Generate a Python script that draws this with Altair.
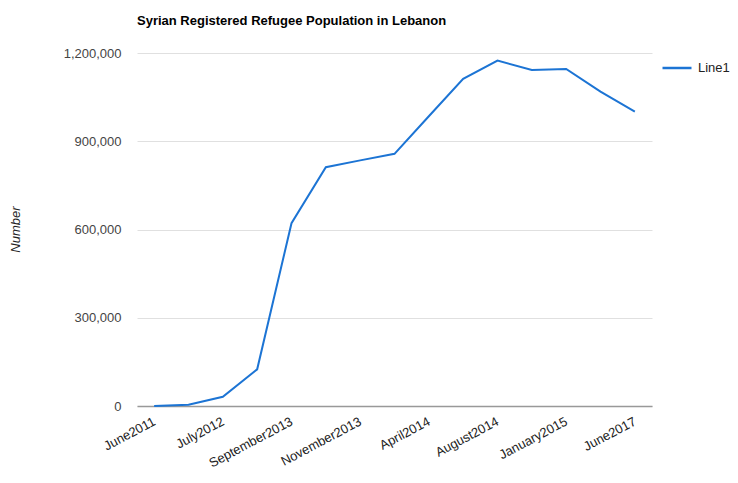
import altair as alt
import pandas as pd

categories = ["June2011", "December2011", "July2012", "January2013", "September2013",
              "October2013", "November2013", "January2014", "April2014", "June2014",
              "August2014", "October2014", "January2015", "June2016", "June2017"]
values = [0, 4000, 31600, 124700, 621400, 811700, 835000, 857300, 985000, 1112000,
          1174000, 1142600, 1146000, 1069000, 1001000]
shown_labels = ["June2011", "July2012", "September2013", "November2013", "April2014",
                "August2014", "January2015", "June2017"]
y_ticks = [0, 300000, 600000, 900000, 1200000]
series_name = "Line1"

df = pd.DataFrame({"period": categories, "number": values, "series": series_name})

font = "Liberation Sans"

chart = alt.Chart(df).mark_line(strokeWidth=2).encode(
    x=alt.X("period:N", sort=categories, title=None,
            scale=alt.Scale(type="point", padding=0.5),
            axis=alt.Axis(values=shown_labels, labelAngle=-28, labelAlign="right",
                          labelBaseline="top", labelFontSize=13, labelColor="#222222",
                          labelFont=font, labelPadding=9, labelOffset=-3, ticks=False,
                          domain=True, domainColor="#999999", domainWidth=1.5, grid=False,
                          labelOverlap=False)),
    y=alt.Y("number:Q", title="Number",
            scale=alt.Scale(domain=[0, 1200000], nice=False),
            axis=alt.Axis(values=y_ticks, format=",d",
                          labelFontSize=13, labelColor="#444444", labelFont=font,
                          labelPadding=16, ticks=False, domain=False,
                          gridColor="#e0e0e0", gridWidth=1,
                          titleFont=font, titleFontSize=13, titleFontStyle="italic",
                          titleFontWeight="normal", titleColor="#222222",
                          titleX=-122, titleY=176, titleAlign="center",
                          titleBaseline="middle")),
    color=alt.Color("series:N", title=None,
                    scale=alt.Scale(domain=[series_name], range=["#1c74d4"]),
                    legend=alt.Legend(orient="none", legendX=524, legendY=-1,
                                      symbolType="stroke", symbolSize=841,
                                      symbolStrokeWidth=2.5, labelFontSize=13,
                                      labelFont=font, labelColor="#222222",
                                      labelOffset=5)),
).properties(
    width=515, height=353,
    title=alt.TitleParams("Syrian Registered Refugee Population in Lebanon",
                          anchor="start", frame="group", font=font, fontSize=13,
                          fontWeight="bold", color="#000000", offset=19),
    autosize=alt.AutoSizeParams(type="none"),
    padding={"left": 129, "top": 45, "right": 78, "bottom": 68},
).configure_view(stroke=None)

chart.save("out.html", embed_options={"renderer": "svg", "actions": False})
